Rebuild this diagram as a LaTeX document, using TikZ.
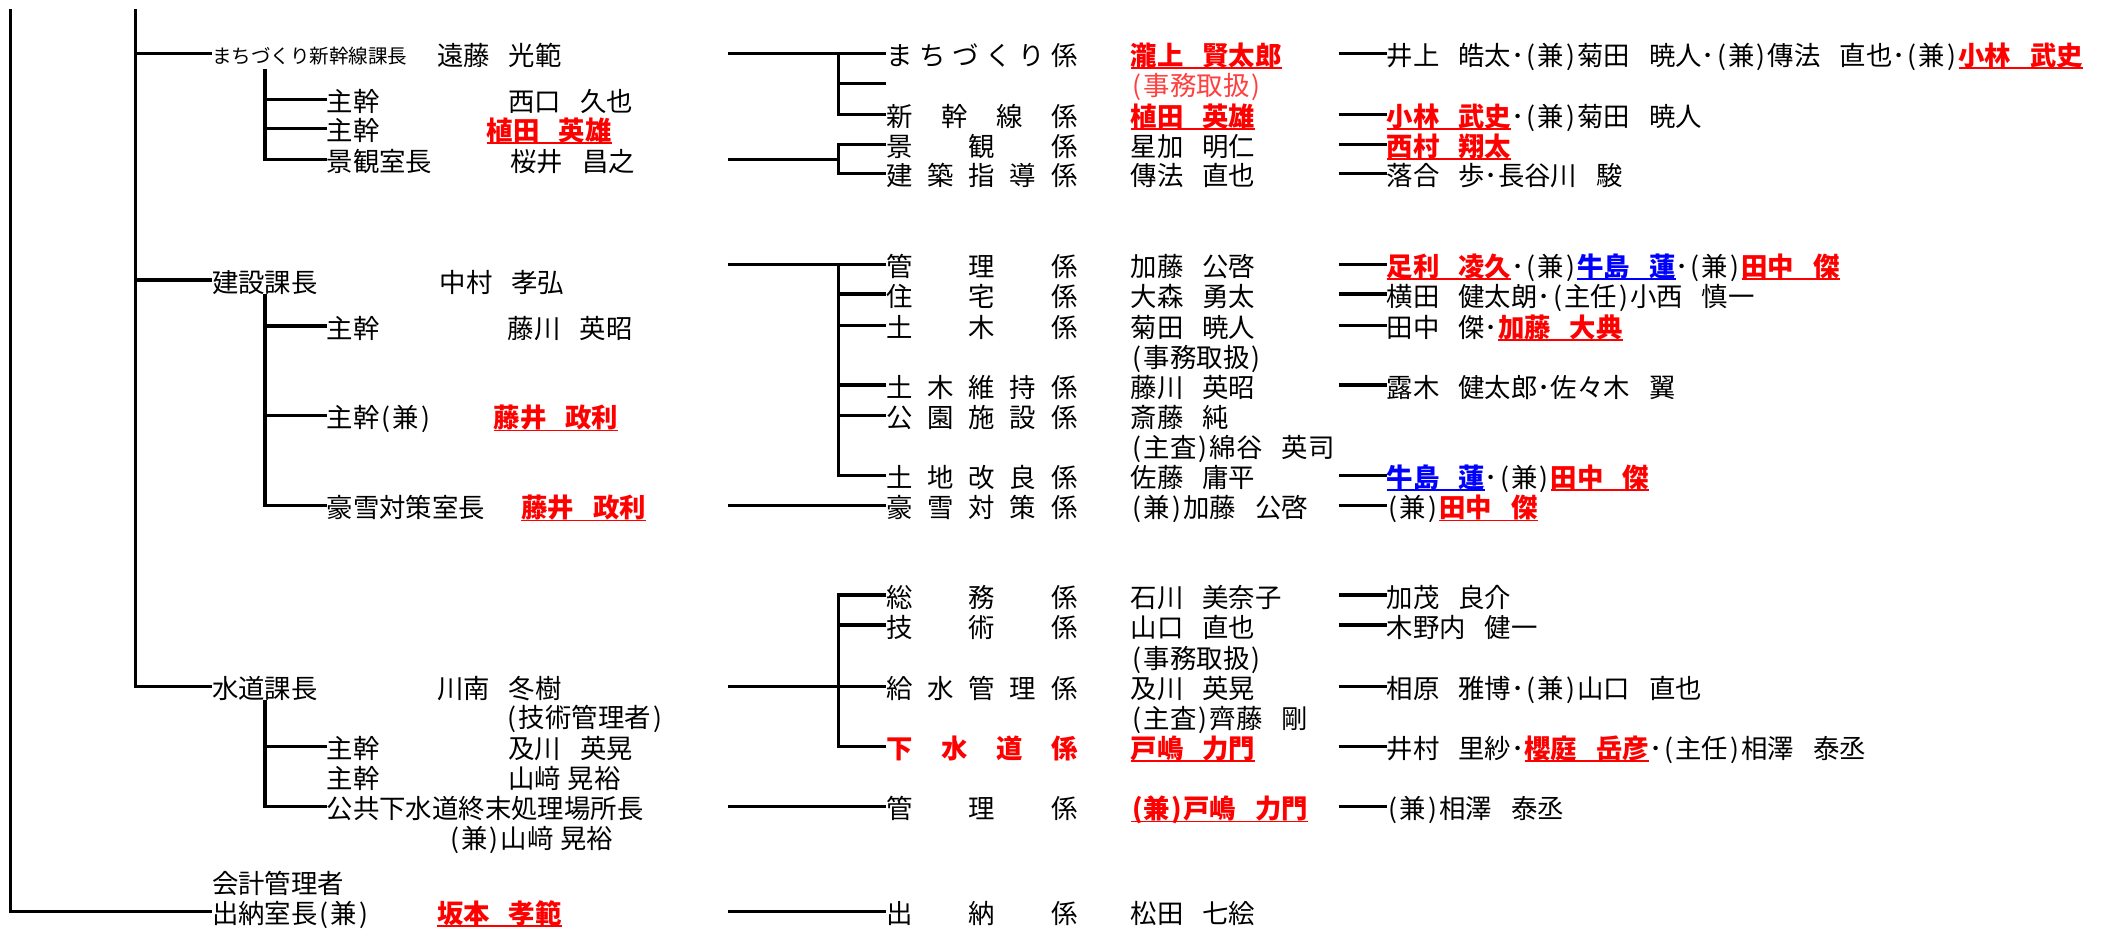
\documentclass[tikz,border=0pt]{standalone}
\usepackage{fontspec}
\setmainfont{Noto Sans CJK JP}
\newcommand\fs{\fontsize{19.6}{23}\selectfont}
\newcommand\fsm{\fontsize{14.5}{17}\selectfont}
\newcommand\myul[1]{\setbox0\hbox{#1}\rlap{\smash{\rule[-2.6pt]{\wd0}{1.3pt}}}\box0}
\newcommand\R[1]{\textcolor{red}{\myul{\bfseries #1}}}
\newcommand\B[1]{\textcolor{blue}{\myul{\bfseries #1}}}
\newcommand\zs{\hspace{0.72em}}
\newcommand\kk[1]{\makebox[0.5em]{(}#1\makebox[0.5em]{)}}
\newcommand\kakari[1]{\makebox[142pt][s]{#1}}
\begin{document}
\begin{tikzpicture}[x=1pt,y=-1pt,line width=2.4pt,
  lbl/.style={anchor=base west,inner sep=0pt,outer sep=0pt,font=\fs,yshift=-9pt},
  sml/.style={anchor=base west,inner sep=0pt,outer sep=0pt,font=\fsm,yshift=-7.5pt}]
\useasboundingbox (0,0) rectangle (1568,696);
% ---------- left column: sections
\node[sml] (a1) at (157.5,39.6) {まちづくり新幹線課長};
\node[lbl] (a2) at (157.5,207.9) {建設課長};
\node[lbl] (a3) at (157.5,509.8) {水道課長};
\node[lbl] (a4) at (157.5,654.5) {会計管理者};
\node[lbl] (a5) at (157.5,676.5) {出納室長\kk{兼}};
% ---------- left column: sub posts
\node[lbl] (b1) at (242.5,73.8) {主幹};
\node[lbl] (b2) at (242.5,95.3) {主幹};
\node[lbl] (b3) at (242.5,118.3) {景観室長};
\node[lbl] (b4) at (242.5,242) {主幹};
\node[lbl] (b5) at (242.5,308.6) {主幹\kk{兼}};
\node[lbl] (b6) at (242.5,375.5) {豪雪対策室長};
\node[lbl] (b7) at (242.5,554.1) {主幹};
\node[lbl] (b8) at (242.5,576.1) {主幹};
\node[lbl] (b9) at (242.5,598.9) {公共下水道終末処理場所長};
% ---------- left column: names
\node[lbl] (c1) at (324.5,39.6) {遠藤\zs 光範};
\node[lbl] (c2) at (377.5,73.8) {西口\zs 久也};
\node[lbl] (c3) at (361.5,95.3) {\R{植田\zs 英雄}};
\node[lbl] (c4) at (379,118.3) {桜井\zs 昌之};
\node[lbl] (c5) at (326.5,207.9) {中村\zs 孝弘};
\node[lbl] (c6) at (377,242) {藤川\zs 英昭};
\node[lbl] (c7) at (366.5,308.6) {\R{藤井\zs 政利}};
\node[lbl] (c8) at (387,375.5) {\R{藤井\zs 政利}};
\node[lbl] (c9) at (324.5,509.8) {川南\zs 冬樹};
\node[lbl] (c10) at (375.5,530.8) {\kk{技術管理者}};
\node[lbl] (c11) at (377.5,554.1) {及川\zs 英晃};
\node[lbl] (c12) at (377.5,576.1) {山﨑\hspace{0.25em}晃裕};
\node[lbl] (c13) at (332.5,621) {\kk{兼}山﨑\hspace{0.25em}晃裕};
\node[lbl] (c14) at (324.5,676.5) {\R{坂本\zs 孝範}};
% ---------- middle column: units
\node[lbl] (k1) at (658,39.6) {\kakari{ま\hfill ち\hfill づ\hfill く\hfill り\hfill 係}};
\node[lbl] (k2) at (658,84.9) {\kakari{新\hfill 幹\hfill 線\hfill 係}};
\node[lbl] (k3) at (658,107.2) {\kakari{景\hfill 観\hfill 係}};
\node[lbl] (k4) at (658,128.7) {\kakari{建\hfill 築\hfill 指\hfill 導\hfill 係}};
\node[lbl] (k5) at (658,196.2) {\kakari{管\hfill 理\hfill 係}};
\node[lbl] (k6) at (658,218.3) {\kakari{住\hfill 宅\hfill 係}};
\node[lbl] (k7) at (658,241.7) {\kakari{土\hfill 木\hfill 係}};
\node[lbl] (k8) at (658,285.8) {\kakari{土\hfill 木\hfill 維\hfill 持\hfill 係}};
\node[lbl] (k9) at (658,308.3) {\kakari{公\hfill 園\hfill 施\hfill 設\hfill 係}};
\node[lbl] (k10) at (658,353.1) {\kakari{土\hfill 地\hfill 改\hfill 良\hfill 係}};
\node[lbl] (k11) at (658,375.5) {\kakari{豪\hfill 雪\hfill 対\hfill 策\hfill 係}};
\node[lbl] (k12) at (658,441.7) {\kakari{総\hfill 務\hfill 係}};
\node[lbl] (k13) at (658,464) {\kakari{技\hfill 術\hfill 係}};
\node[lbl] (k14) at (658,509.8) {\kakari{給\hfill 水\hfill 管\hfill 理\hfill 係}};
\node[lbl,text=red,font=\fs\bfseries] (k15) at (658,554.1) {\kakari{下\hfill 水\hfill 道\hfill 係}};
\node[lbl] (k16) at (658,598.9) {\kakari{管\hfill 理\hfill 係}};
\node[lbl] (k17) at (658,676.5) {\kakari{出\hfill 納\hfill 係}};
% ---------- middle column: names
\node[lbl] (n1) at (839.5,39.6) {\R{瀧上\zs 賢太郎}};
\node[lbl,text=red!75] (n2) at (839.5,61.9) {\kk{事務取扱}};
\node[lbl] (n3) at (839.5,84.9) {\R{植田\zs 英雄}};
\node[lbl] (n4) at (839.5,107.2) {星加\zs 明仁};
\node[lbl] (n5) at (839.5,128.7) {傳法\zs 直也};
\node[lbl] (n6) at (839.5,196.2) {加藤\zs 公啓};
\node[lbl] (n7) at (839.5,218.3) {大森\zs 勇太};
\node[lbl] (n8) at (839.5,241.7) {菊田\zs 暁人};
\node[lbl] (n9) at (839.5,263.5) {\kk{事務取扱}};
\node[lbl] (n10) at (839.5,285.8) {藤川\zs 英昭};
\node[lbl] (n11) at (839.5,308.3) {斎藤\zs 純};
\node[lbl] (n12) at (839.5,330.4) {\kk{主査}綿谷\zs 英司};
\node[lbl] (n13) at (839.5,353.1) {佐藤\zs 庸平};
\node[lbl] (n14) at (839.5,375.5) {\kk{兼}加藤\zs 公啓};
\node[lbl] (n15) at (839.5,441.7) {石川\zs 美奈子};
\node[lbl] (n16) at (839.5,464) {山口\zs 直也};
\node[lbl] (n17) at (839.5,487.5) {\kk{事務取扱}};
\node[lbl] (n18) at (839.5,509.8) {及川\zs 英晃};
\node[lbl] (n19) at (839.5,531.5) {\kk{主査}齊藤\zs 剛};
\node[lbl] (n20) at (839.5,554.1) {\R{戸嶋\zs 力門}};
\node[lbl] (n21) at (839.5,598.9) {\R{\kk{兼}戸嶋\zs 力門}};
\node[lbl] (n22) at (839.5,676.5) {松田\zs 七絵};
% ---------- right column: members
\node[lbl] (r1) at (1029.5,39.6) {井上\zs 皓太･\kk{兼}菊田\zs 暁人･\kk{兼}傳法\zs 直也･\kk{兼}\R{小林\zs 武史}};
\node[lbl] (r2) at (1029.5,84.9) {\R{小林\zs 武史}･\kk{兼}菊田\zs 暁人};
\node[lbl] (r3) at (1029.5,107.2) {\R{西村\zs 翔太}};
\node[lbl] (r4) at (1029.5,128.7) {落合\zs 歩･長谷川\zs 駿};
\node[lbl] (r5) at (1029.5,196.2) {\R{足利\zs 凌久}･\kk{兼}\B{牛島\zs 蓮}･\kk{兼}\R{田中\zs 傑}};
\node[lbl] (r6) at (1029.5,218.3) {横田\zs 健太朗･\kk{主任}小西\zs 慎一};
\node[lbl] (r7) at (1029.5,241.7) {田中\zs 傑･\R{加藤\zs 大典}};
\node[lbl] (r8) at (1029.5,285.8) {露木\zs 健太郎･佐々木\zs 翼};
\node[lbl] (r9) at (1029.5,353.1) {\B{牛島\zs 蓮}･\kk{兼}\R{田中\zs 傑}};
\node[lbl] (r10) at (1029.5,375.5) {\kk{兼}\R{田中\zs 傑}};
\node[lbl] (r11) at (1029.5,441.7) {加茂\zs 良介};
\node[lbl] (r12) at (1029.5,464) {木野内\zs 健一};
\node[lbl] (r13) at (1029.5,509.8) {相原\zs 雅博･\kk{兼}山口\zs 直也};
\node[lbl] (r14) at (1029.5,554.1) {井村\zs 里紗･\R{櫻庭\zs 岳彦}･\kk{主任}相澤\zs 泰丞};
\node[lbl] (r15) at (1029.5,598.9) {\kk{兼}相澤\zs 泰丞};
% ---------- junction coordinates
\coordinate (T0) at (8,7);
\coordinate (J0) at (8,676.5);
\coordinate (T1) at (100.6,7);
\coordinate (J1a) at (100.6,39.6);
\coordinate (J1b) at (100.6,207.9);
\coordinate (J1c) at (100.6,509.8);
\coordinate (S1t) at (196.8,51.5);
\coordinate (S1a) at (196.8,73.8);
\coordinate (S1b) at (196.8,95.3);
\coordinate (S1c) at (196.8,118.3);
\coordinate (S2t) at (196.8,218.3);
\coordinate (S2a) at (196.8,242);
\coordinate (S2b) at (196.8,308.6);
\coordinate (S2c) at (196.8,375.5);
\coordinate (S3t) at (196.8,520);
\coordinate (S3a) at (196.8,554.1);
\coordinate (S3b) at (196.8,598.9);
\coordinate (M1) at (540.5,39.6);
\coordinate (V1b) at (622.4,61.9);
\coordinate (V1a) at (622.4,39.6);
\coordinate (V1c) at (622.4,84.9);
\coordinate (M2) at (540.5,118.3);
\coordinate (V2) at (622.4,118.3);
\coordinate (V2a) at (622.4,107.2);
\coordinate (V2b) at (622.4,128.7);
\coordinate (M3) at (540.5,196.2);
\coordinate (V3a) at (622.4,196.2);
\coordinate (V3b) at (622.4,218.3);
\coordinate (V3c) at (622.4,241.7);
\coordinate (V3d) at (622.4,285.8);
\coordinate (V3e) at (622.4,308.3);
\coordinate (V3f) at (622.4,353.1);
\coordinate (M4) at (540.5,375.5);
\coordinate (M5) at (540.5,509.8);
\coordinate (V5a) at (622.4,441.7);
\coordinate (V5b) at (622.4,464);
\coordinate (V5d) at (622.4,554.1);
\coordinate (M6) at (540.5,598.9);
\coordinate (M7) at (540.5,676.5);
% ---------- trunks
\draw (T0) -- (J0) -- (J0 -| a5.west);
\draw (T1) -- (J1c) -- (J1c -| a3.west);
\draw (J1a) -- (J1a -| a1.west);
\draw (J1b) -- (J1b -| a2.west);
\draw (S1t) -- (S1c) -- (S1c -| b3.west);
\draw (S1a) -- (S1a -| b1.west);
\draw (S1b) -- (S1b -| b2.west);
\draw (S2t) -- (S2c) -- (S2c -| b6.west);
\draw (S2a) -- (S2a -| b4.west);
\draw (S2b) -- (S2b -| b5.west);
\draw (S3t) -- (S3b) -- (S3b -| b9.west);
\draw (S3a) -- (S3a -| b7.west);
% ---------- middle branches
\draw (M1) -- (M1 -| k1.west);
\draw (V1a) -- (V1c) -- (V1c -| k2.west);
\draw (V1b) -- (V1b -| k1.west);
\draw (M2) -- (V2);
\draw (V2a -| k3.west) -- (V2a) -- (V2b) -- (V2b -| k4.west);
\draw (M3) -- (M3 -| k5.west);
\draw (V3a) -- (V3f) -- (V3f -| k10.west);
\draw (V3b) -- (V3b -| k6.west);
\draw (V3c) -- (V3c -| k7.west);
\draw (V3d) -- (V3d -| k8.west);
\draw (V3e) -- (V3e -| k9.west);
\draw (M4) -- (M4 -| k11.west);
\draw (M5) -- (M5 -| k14.west);
\draw (V5a -| k12.west) -- (V5a) -- (V5d) -- (V5d -| k15.west);
\draw (V5b) -- (V5b -| k13.west);
\draw (M6) -- (M6 -| k16.west);
\draw (M7) -- (M7 -| k17.west);
% ---------- right connectors
\foreach \r/\y in {r1/39.6,r2/84.9,r3/107.2,r4/128.7,r5/196.2,r6/218.3,r7/241.7,r8/285.8,r9/353.1,r10/375.5,r11/441.7,r12/464,r13/509.8,r14/554.1,r15/598.9}
  \draw (994,\y) coordinate (q\r) -- (q\r -| \r.west);
\end{tikzpicture}
\end{document}
